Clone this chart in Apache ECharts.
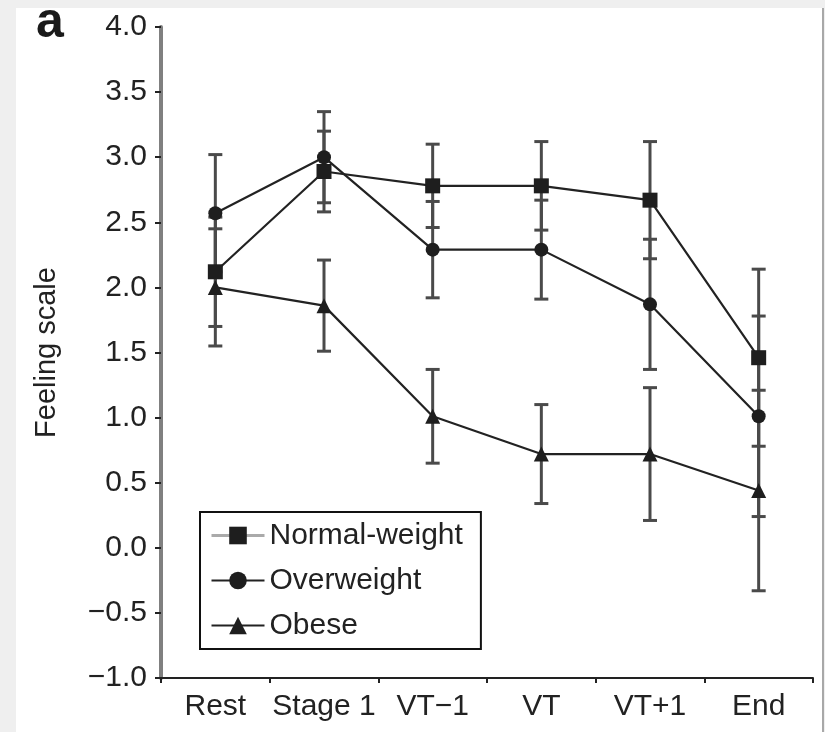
<!DOCTYPE html>
<html>
<head>
<meta charset="utf-8">
<script src="https://cdn.jsdelivr.net/npm/echarts@6/dist/echarts.min.js"></script>
<style>
html,body{margin:0;padding:0;background:#efefef;}
#chart{width:825px;height:732px;}
</style>
</head>
<body>
<div id="chart"></div>
<script>
var categories = ['Rest', 'Stage 1', 'VT\u22121', 'VT', 'VT+1', 'End'];
var normalMean = [2.12, 2.89, 2.78, 2.78, 2.67, 1.46];
var normalSD   = [0.42, 0.31, 0.32, 0.34, 0.45, 0.68];
var overMean   = [2.57, 3.00, 2.29, 2.29, 1.87, 1.01];
var overSD     = [0.45, 0.35, 0.37, 0.38, 0.50, 0.77];
var obeseMean  = [2.00, 1.86, 1.01, 0.72, 0.72, 0.44];
var obeseSD    = [0.45, 0.35, 0.36, 0.38, 0.51, 0.77];
var yTicks = {min: -1, max: 4, interval: 0.5};

var FONT = 'Liberation Sans, Arial, Helvetica, sans-serif';

function errData(mean, sd) {
  return mean.map(function (m, i) { return [i, m + sd[i], m - sd[i]]; });
}
function errRender(params, api) {
  var hi = api.coord([api.value(0), api.value(1)]);
  var lo = api.coord([api.value(0), api.value(2)]);
  var hw = 7;
  var st = {stroke: '#4a4a4a', lineWidth: 3};
  return {
    type: 'group',
    children: [
      {type: 'line', shape: {x1: hi[0], y1: hi[1], x2: lo[0], y2: lo[1]}, style: st},
      {type: 'line', shape: {x1: hi[0] - hw, y1: hi[1], x2: hi[0] + hw, y2: hi[1]}, style: st},
      {type: 'line', shape: {x1: lo[0] - hw, y1: lo[1], x2: lo[0] + hw, y2: lo[1]}, style: st}
    ]
  };
}
function errSeries(name, mean, sd) {
  return {
    name: name, type: 'custom', renderItem: errRender,
    data: errData(mean, sd), z: 1, silent: true,
    encode: {x: 0, y: [1, 2]}
  };
}
function lineSeries(name, mean, symbol, size) {
  return {
    name: name, type: 'line', data: mean, symbol: symbol, symbolSize: size,
    z: 3, animation: false,
    lineStyle: {color: '#222', width: 2.2},
    itemStyle: {color: '#1e1e1e'}
  };
}

var chart = echarts.init(document.getElementById('chart'));
chart.setOption({
  animation: false,
  backgroundColor: '#efefef',
  graphic: [
    {type: 'rect', shape: {x: 16, y: 8, width: 806, height: 724}, style: {fill: '#ffffff'}, z: -10, silent: true},
    {type: 'rect', shape: {x: 822, y: 8, width: 2, height: 724}, style: {fill: '#a8a8a8'}, z: -10, silent: true},
    {type: 'text', style: {x: 36, y: 23, text: 'a', font: 'bold 50px ' + FONT, fill: '#1a1a1a', verticalAlign: 'middle'}, z: 10}
  ],
  grid: {left: 161, right: 12, top: 27, bottom: 54},
  legend: {
    orient: 'vertical', left: 200, top: 512,
    data: [
      {name: 'Normal-weight', lineStyle: {color: '#aaaaaa', width: 3}},
      {name: 'Overweight'},
      {name: 'Obese'}
    ],
    backgroundColor: '#ffffff',
    borderColor: '#111', borderWidth: 2, padding: [8, 18, 8, 10],
    itemWidth: 53, itemHeight: 22, itemGap: 14,
    textStyle: {fontSize: 30, color: '#222', fontFamily: FONT, lineHeight: 31},
    selectedMode: false
  },
  xAxis: {
    type: 'category', data: categories, boundaryGap: true,
    axisLine: {onZero: false, lineStyle: {color: '#222', width: 2}},
    axisTick: {show: true, length: 5, lineStyle: {color: '#222', width: 2}},
    axisLabel: {fontSize: 30, color: '#222', fontFamily: FONT, margin: 14, interval: 0},
    splitLine: {show: false}
  },
  yAxis: {
    type: 'value', min: yTicks.min, max: yTicks.max, interval: yTicks.interval,
    name: 'Feeling scale', nameLocation: 'middle', nameGap: 100, nameRotate: 90,
    nameTextStyle: {fontSize: 29, color: '#222', fontFamily: FONT},
    axisLine: {show: true, lineStyle: {color: '#808080', width: 4}},
    axisTick: {show: true, length: 6, lineStyle: {color: '#222', width: 2}},
    axisLabel: {fontSize: 30, color: '#222', fontFamily: FONT, margin: 14,
      formatter: function (v) { return v.toFixed(1).replace('-', '\u2212'); }},
    splitLine: {show: false}
  },
  series: [
    errSeries('errN', normalMean, normalSD),
    errSeries('errO', overMean, overSD),
    errSeries('errB', obeseMean, obeseSD),
    lineSeries('Normal-weight', normalMean, 'rect', 15),
    lineSeries('Overweight', overMean, 'circle', 14),
    lineSeries('Obese', obeseMean, 'triangle', 15)
  ]
});
</script>
</body>
</html>
